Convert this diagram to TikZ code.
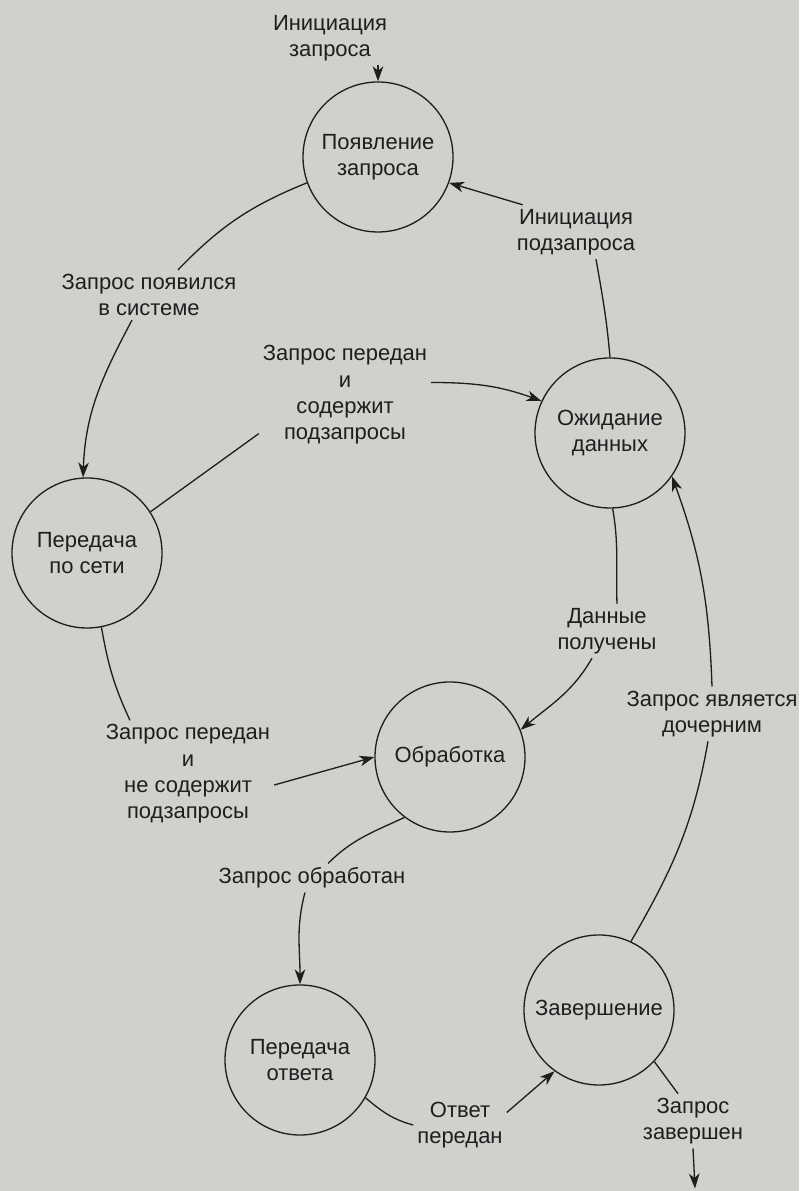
\documentclass[tikz,border=0pt]{standalone}
\usepackage{fontspec}
\setmainfont{Liberation Sans}
\usepackage{xcolor}
\definecolor{scan-grey}{RGB}{208,208,205}
\definecolor{ink}{RGB}{30,30,30}
\usepackage{tikz}
\usetikzlibrary{arrows.meta}

\begin{document}
\begin{tikzpicture}[>={Stealth[length=8.5pt,width=6pt,inset=2.5pt]},ink,line width=0.75pt,
	font=\fontsize{12.5}{15}\selectfont,
	phase/.style={draw,circle,minimum size=3cm,align=center,inner sep=0pt},
	lbl/.style={align=center,inner sep=2pt}]
	\fill[scan-grey] (0,0) rectangle (15.98,23.82);
	
	\node[phase] (appear) at (7.56,20.68) {Появление\\запроса};
	\node[phase] (wait) at (12.2,15.16) {Ожидание\\данных};
	\node[phase] (net) at (1.74,12.76) {Передача\\по сети};
	\node[phase] (proc) at (9.0,8.68) {Обработка};
	\node[phase] (reply) at (6.0,2.62) {Передача\\ответа};
	\node[phase] (done) at (11.98,3.62) {Завершение};
	
	\node[lbl] (lInit) at (6.6,23.06) {Инициация\\запроса};
	\node[lbl] (lSub) at (11.52,19.18) {Инициация\\подзапроса};
	\node[lbl] (lAppeared) at (2.98,17.92) {Запрос появился\\в системе};
	\node[lbl] (lWithSub) at (6.9,15.92) {Запрос передан\\и\\содержит\\подзапросы};
	\node[lbl] (lNoSub) at (3.76,8.34) {Запрос передан\\и\\не содержит\\подзапросы};
	\node[lbl] (lData) at (12.14,11.2) {Данные\\получены};
	\node[lbl] (lChild) at (14.24,9.54) {Запрос является\\дочерним};
	\node[lbl] (lDone) at (6.24,6.26) {Запрос обработан};
	\node[lbl] (lSent) at (9.2,1.32) {Ответ\\передан};
	\node[lbl] (lEnd) at (13.86,1.4) {Запрос\\завершен};
	\coordinate (fin) at (13.9,0.05);
	
	\draw[->] (lInit.south -| appear.north) -- (appear.north);
	\draw (wait.north) to[out=95,in=-80] ([xshift=0.4cm]lSub.south);
	\draw[->] ([xshift=0.2cm]lSub.north west) -- (appear.-20);
	\draw (appear.200) to[bend right=12] ([xshift=0.58cm]lAppeared.north);
	\draw[->] ([xshift=-0.34cm]lAppeared.south) to[out=-118,in=88] (net.93);
	\draw (net.33) -- ([yshift=0.3cm]lWithSub.south west);
	\draw[->] ([yshift=0.25cm]lWithSub.east) to[out=0,in=160] (wait.155);
	\draw (net.-79) to[out=-80,in=115] ([xshift=-1.16cm]lNoSub.north);
	\draw[->] ([yshift=-0.22cm]lNoSub.east) -- (proc.west);
	\draw (wait.-88) to[out=-80,in=92] ([xshift=0.2cm]lData.north);
	\draw[->] ([xshift=-0.3cm]lData.south) to[out=-120,in=40] (proc.21);
	\draw (done.65) to[out=60,in=-100] ([xshift=-0.08cm]lChild.south);
	\draw[->] (lChild.north) to[out=92,in=-70] (wait.-35);
	\draw (proc.233) to[out=205,in=45] ([xshift=0.32cm]lDone.north);
	\draw[->] ([xshift=-0.14cm]lDone.south) to[out=-105,in=90] (reply.north);
	\draw (reply.-30) to[out=-40,in=165] (lSent.west);
	\draw[->] ([yshift=0.25cm]lSent.east) -- (done.234);
	\draw (done.-43) -- ([xshift=-0.3cm]lEnd.north);
	\draw[->] (lEnd.south) -- (fin);
\end{tikzpicture}
\end{document}
